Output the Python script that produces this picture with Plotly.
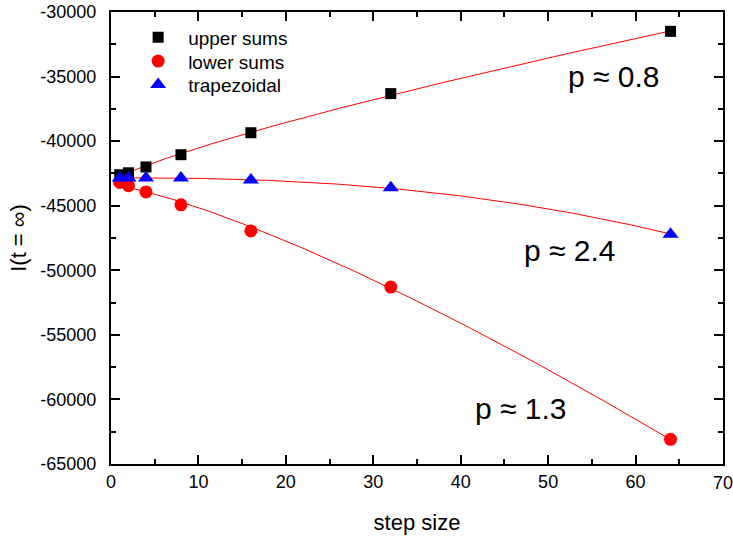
import numpy as np
import plotly.graph_objects as go

step = [1, 2, 4, 8, 16, 32, 64]
upper = [-42600, -42450, -42000, -41050, -39350, -36320, -31500]
lower = [-43200, -43450, -43930, -44930, -46950, -51300, -63090]
trap = [-42850, -42850, -42850, -42850, -43000, -43600, -47200]
p_upper, p_lower, p_trap = 0.8, 1.3, 2.4
y_ticks = [-65000, -60000, -55000, -50000, -45000, -40000, -35000, -30000]
y_ticktext = ["-65000", "-60000", "-55000", "-50000", "-45000", "-40000", "-35000", "-30000"]
x_ticks = [0, 10, 20, 30, 40, 50, 60, 70]

def fit_curve(h, y, p):
    h = np.asarray(h, float); y = np.asarray(y, float)
    A = np.vstack([np.ones_like(h), h ** p]).T
    (i0, c), *_ = np.linalg.lstsq(A, y, rcond=None)
    hh = np.linspace(h.min(), h.max(), 200)
    return hh, i0 + c * hh ** p

fig = go.Figure()
for ys, p in [(upper, p_upper), (lower, p_lower), (trap, p_trap)]:
    hh, yy = fit_curve(step, ys, p)
    fig.add_trace(go.Scatter(x=hh, y=yy, mode="lines", line=dict(color="red", width=1),
                             showlegend=False, hoverinfo="skip"))

fig.add_trace(go.Scatter(x=step, y=upper, mode="markers", name="upper sums", legend="legend",
                         marker=dict(symbol="square", color="black", size=11)))
fig.add_trace(go.Scatter(x=step, y=lower, mode="markers", name="lower sums", legend="legend2",
                         marker=dict(symbol="circle", color="red", size=13)))
fig.add_trace(go.Scatter(x=step, y=trap, mode="markers", name="trapezoidal", legend="legend3",
                         marker=dict(symbol="triangle-up", color="blue", size=14)))

font = "Liberation Sans, Arial, sans-serif"
axis_common = dict(showline=True, linecolor="black", linewidth=2, mirror="allticks",
                   ticks="inside", ticklen=9, tickwidth=1.5, tickcolor="black",
                   showgrid=False, zeroline=False, automargin=False,
                   tickfont=dict(size=18, color="black", family=font))

fig.update_xaxes(range=[0, 70], tickvals=x_ticks[:-1], title=dict(text="step size", font=dict(size=22, family=font, color="black"), standoff=24),
                 minor=dict(ticks="inside", ticklen=5, dtick=5, tickcolor="black", tickwidth=1.5),
                 ticklabelstandoff=0, **axis_common)
fig.update_yaxes(range=[-65000, -30000], tickvals=y_ticks, ticktext=y_ticktext,
                 title=dict(text="I(t = ∞)", font=dict(size=22, family=font, color="black"), standoff=8),
                 minor=dict(ticks="inside", ticklen=5, dtick=2500, tickcolor="black", tickwidth=1.5),
                 ticklabelstandoff=9, **axis_common)

# last x tick label (at the very edge of the page)
fig.add_annotation(x=x_ticks[-1], y=0, xref="x", yref="paper", yanchor="top", yshift=-7,
                   text=str(x_ticks[-1]), showarrow=False, xanchor="center",
                   font=dict(size=18, family=font, color="black"))

for txt, x, y in [("p ≈ 0.8", 57.5, -35000), ("p ≈ 2.4", 52.5, -48450), ("p ≈ 1.3", 46.9, -60700)]:
    fig.add_annotation(x=x, y=y, text=txt, showarrow=False, xanchor="center", yanchor="middle",
                       font=dict(size=30, family=font, color="black"))

leg = dict(x=0.028, xanchor="left", yanchor="middle", bgcolor="rgba(0,0,0,0)",
           font=dict(size=19, family=font, color="black"), itemwidth=50)
fig.update_layout(width=733, height=536, margin=dict(l=111, r=10, t=12, b=72),
                  plot_bgcolor="white", paper_bgcolor="white",
                  font=dict(family=font, color="black"),
                  legend=dict(y=0.944, **leg),
                  legend2=dict(y=0.891, **leg),
                  legend3=dict(y=0.839, **leg))

fig.write_html("out.html")
